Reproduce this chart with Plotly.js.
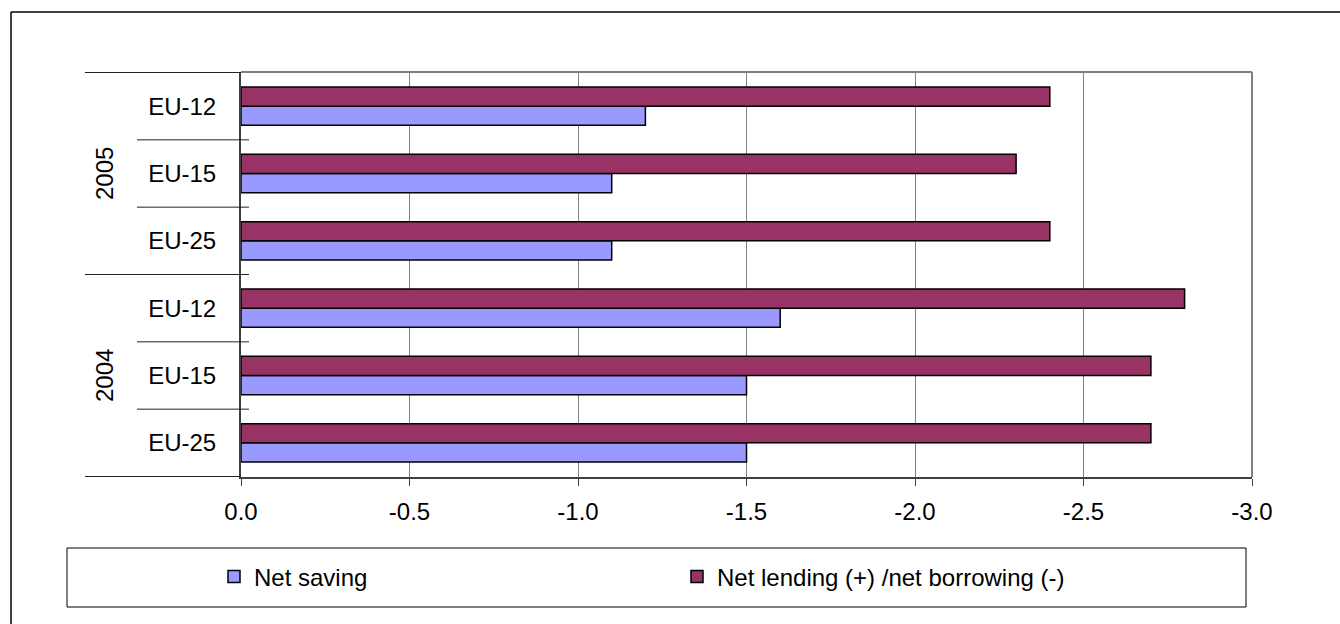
<!DOCTYPE html>
<html>
<head>
<meta charset="utf-8">
<script src="https://cdn.plot.ly/plotly-3.0.1.min.js"></script>
<style>
html,body{margin:0;padding:0;background:#fff;}
#chart{width:1340px;height:624px;}
</style>
</head>
<body>
<div id="chart"></div>
<script>
// ---- data (bottom to top) ----
const years = ['2004', '2004', '2004', '2005', '2005', '2005'];
const regions = ['EU-25', 'EU-15', 'EU-12', 'EU-25', 'EU-15', 'EU-12'];
const netSaving = [-1.5, -1.5, -1.6, -1.1, -1.1, -1.2];
const netLending = [-2.7, -2.7, -2.8, -2.4, -2.3, -2.4];
const seriesNames = ['Net saving', 'Net lending (+) /net borrowing (-)'];
const xTickVals = [0, -0.5, -1.0, -1.5, -2.0, -2.5, -3.0];
const xTickText = ['0.0', '-0.5', '-1.0', '-1.5', '-2.0', '-2.5', '-3.0'];
const yearLabels = ['2004', '2005'];

// ---- geometry helpers ----
const L = 241, R = 88, T = 72, B = 147, W = 1340 - L - R, H = 624 - T - B;
const px = x => (x - L) / W;
const py = y => (624 - B - y) / H;

const keys = years.map((y, i) => y + ' ' + regions[i]);
const FONT = 'Liberation Sans, Arial, sans-serif';
const FS = 24;

const traces = [
  {
    type: 'bar', orientation: 'h', name: seriesNames[0],
    y: keys, x: netSaving,
    marker: {color: '#9999FF', line: {color: '#000', width: 1.5}},
    hoverinfo: 'skip'
  },
  {
    type: 'bar', orientation: 'h', name: seriesNames[1],
    y: keys, x: netLending,
    marker: {color: '#993366', line: {color: '#000', width: 1.5}},
    hoverinfo: 'skip'
  }
];

const shapes = [];
// outer frame: only top and left edges are inside the picture
shapes.push({type: 'line', xref: 'paper', yref: 'paper', x0: px(11), x1: px(1340), y0: py(12), y1: py(12),
  line: {color: '#000', width: 1.5}, layer: 'below'});
shapes.push({type: 'line', xref: 'paper', yref: 'paper', x0: px(11), x1: px(11), y0: py(12), y1: py(624),
  line: {color: '#000', width: 1.5}, layer: 'below'});
// plot top and right border (gray)
shapes.push({type: 'line', xref: 'paper', yref: 'paper', x0: 0, x1: 1, y0: 1, y1: 1, line: {color: '#808080', width: 2}, layer: 'below'});
shapes.push({type: 'line', xref: 'paper', yref: 'paper', x0: 1, x1: 1, y0: 0, y1: 1, line: {color: '#808080', width: 2}, layer: 'below'});
// category dividers
for (let b = -1; b < keys.length; b++) {
  const outer = (b === -1 || b === keys.length - 1 || years[b] !== years[b + 1]);
  shapes.push({type: 'line', xref: 'paper', yref: 'y',
    x0: outer ? px(85) : px(137), x1: (b === -1 || b === keys.length - 1) ? 0 : px(249),
    y0: b + 0.5, y1: b + 0.5,
    line: {color: '#222', width: 1}});
}
// legend frame
shapes.push({type: 'rect', xref: 'paper', yref: 'paper', x0: px(67), x1: px(1246), y0: py(607), y1: py(548),
  line: {color: '#000', width: 1}, fillcolor: 'rgba(0,0,0,0)'});

// year labels
const annotations = yearLabels.map(yr => {
  const idx = years.map((y, i) => y === yr ? i : -1).filter(i => i >= 0);
  const mid = idx[Math.floor(idx.length / 2)];
  return {xref: 'paper', yref: 'y', x: px(104.5), y: mid, text: yr, textangle: -90,
    showarrow: false, xanchor: 'center', yanchor: 'middle', font: {family: FONT, size: FS, color: '#000'}};
});

const layout = {
  width: 1340, height: 624,
  margin: {l: L, r: R, t: T, b: B, pad: 0},
  paper_bgcolor: '#fff', plot_bgcolor: '#fff',
  font: {family: FONT, size: FS, color: '#000'},
  barmode: 'group', bargap: 0.43, bargroupgap: 0,
  showlegend: true,
  legend: {orientation: 'h', x: px(214), xanchor: 'left', y: py(577), yanchor: 'middle',
    bgcolor: 'rgba(0,0,0,0)', borderwidth: 0, entrywidth: 418, entrywidthmode: 'pixels',
    font: {family: FONT, size: FS, color: '#000'}, traceorder: 'normal'},
  xaxis: {range: [0, -3], tickvals: xTickVals, ticktext: xTickText,
    showgrid: true, gridcolor: '#808080', gridwidth: 1, zeroline: false,
    showline: true, linecolor: '#404040', linewidth: 1.5,
    ticks: 'outside', ticklen: 7, tickcolor: '#404040', tickwidth: 1, ticklabelstandoff: 6,
    tickfont: {family: FONT, size: FS, color: '#000'}, fixedrange: true},
  yaxis: {type: 'category', categoryorder: 'array', categoryarray: keys,
    tickvals: keys, ticktext: regions, ticks: '', showgrid: false, zeroline: false,
    showline: true, linecolor: '#404040', linewidth: 2, ticklabelstandoff: 18,
    tickfont: {family: FONT, size: FS, color: '#000'}, fixedrange: true},
  shapes: shapes,
  annotations: annotations
};

Plotly.newPlot('chart', traces, layout, {displayModeBar: false, staticPlot: true});
</script>
</body>
</html>
